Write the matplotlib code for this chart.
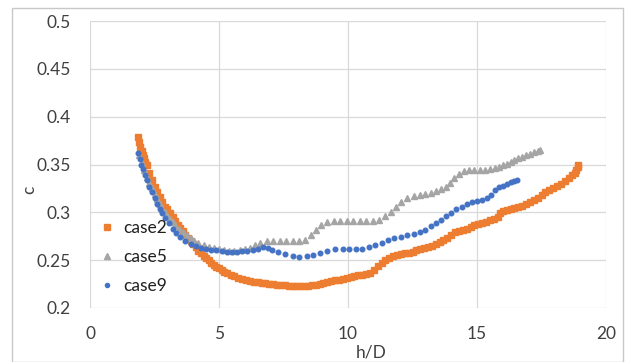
import matplotlib
matplotlib.use("Agg")
import matplotlib.pyplot as plt
from matplotlib.patches import Rectangle
from matplotlib.ticker import FuncFormatter

plt.rcParams['font.family'] = ['Lato', 'DejaVu Sans']

# ---- data ----
case2_x = [1.85, 1.9, 1.95, 2.0, 2.05, 2.1, 2.15, 2.2, 2.3, 2.4, 2.5, 2.6, 2.7, 2.8, 2.9,
           3.0, 3.1, 3.2, 3.3, 3.4, 3.5, 3.6, 3.7, 3.8, 3.9, 4.0, 4.1, 4.2, 4.3, 4.4, 4.5,
           4.6, 4.7, 4.8, 4.9, 5.0, 5.1, 5.2, 5.3, 5.45, 5.6, 5.75, 5.9, 6.05, 6.2, 6.35,
           6.5, 6.65, 6.8, 6.95, 7.1, 7.25, 7.4, 7.55, 7.7, 7.85, 8.0, 8.15, 8.3, 8.45,
           8.6, 8.75, 8.9, 9.05, 9.2, 9.35, 9.5, 9.65, 9.8, 9.95, 10.1, 10.25, 10.4, 10.55,
           10.7, 10.85, 11.0, 11.15, 11.3, 11.45, 11.6, 11.75, 11.9, 12.05, 12.2, 12.35,
           12.5, 12.65, 12.8, 12.95, 13.1, 13.25, 13.4, 13.55, 13.7, 13.85, 14.0, 14.15,
           14.3, 14.45, 14.6, 14.75, 14.9, 15.05, 15.2, 15.35, 15.5, 15.65, 15.8, 15.9,
           16.0, 16.15, 16.3, 16.45, 16.6, 16.75, 16.9, 17.05, 17.2, 17.35, 17.5, 17.65,
           17.8, 17.95, 18.1, 18.25, 18.4, 18.55, 18.7, 18.8, 18.85, 18.9, 18.92]
case2_y = [0.379, 0.373, 0.368, 0.364, 0.360, 0.357, 0.353, 0.349, 0.341, 0.334, 0.327,
           0.321, 0.316, 0.311, 0.306, 0.303, 0.299, 0.295, 0.291, 0.287, 0.284, 0.280,
           0.276, 0.273, 0.270, 0.267, 0.264, 0.260, 0.257, 0.254, 0.252, 0.250, 0.247,
           0.245, 0.243, 0.242, 0.240, 0.238, 0.237, 0.235, 0.233, 0.231, 0.230, 0.229,
           0.228, 0.227, 0.227, 0.226, 0.226, 0.225, 0.225, 0.224, 0.224, 0.224, 0.223,
           0.223, 0.223, 0.223, 0.223, 0.223, 0.224, 0.224, 0.225, 0.226, 0.227, 0.228,
           0.229, 0.229, 0.230, 0.231, 0.232, 0.233, 0.234, 0.235, 0.236, 0.237, 0.240,
           0.244, 0.247, 0.250, 0.252, 0.254, 0.255, 0.256, 0.257, 0.258, 0.259, 0.261,
           0.262, 0.263, 0.264, 0.265, 0.267, 0.269, 0.271, 0.273, 0.276, 0.279, 0.281,
           0.282, 0.283, 0.285, 0.287, 0.288, 0.289, 0.290, 0.292, 0.293, 0.295, 0.299,
           0.301, 0.302, 0.304, 0.305, 0.306, 0.307, 0.309, 0.311, 0.313, 0.315, 0.318,
           0.321, 0.323, 0.325, 0.328, 0.330, 0.333, 0.336, 0.339, 0.341, 0.344, 0.347,
           0.350]

case5_x = [1.9, 2.0, 2.1, 2.2, 2.3, 2.4, 2.5, 2.6, 2.7, 2.8, 2.9, 3.0, 3.1, 3.2, 3.3,
           3.45, 3.6, 3.75, 3.9, 4.05, 4.2, 4.4, 4.6, 4.8, 5.0, 5.2, 5.4, 5.6, 5.8, 6.0,
           6.2, 6.4, 6.6, 6.85, 7.1, 7.35, 7.6, 7.85, 8.1, 8.35, 8.55, 8.75, 8.95, 9.2,
           9.45, 9.7, 9.95, 10.2, 10.45, 10.7, 10.95, 11.2, 11.45, 11.65, 11.85, 12.05,
           12.3, 12.55, 12.8, 13.0, 13.2, 13.4, 13.6, 13.8, 13.95, 14.1, 14.3, 14.5, 14.7,
           14.9, 15.1, 15.3, 15.5, 15.7, 15.85, 16.0, 16.15, 16.3, 16.45, 16.6, 16.75,
           16.9, 17.05, 17.2, 17.35, 17.45]
case5_y = [0.360, 0.352, 0.344, 0.337, 0.331, 0.325, 0.319, 0.314, 0.309, 0.304, 0.300,
           0.296, 0.293, 0.290, 0.287, 0.283, 0.279, 0.276, 0.273, 0.270, 0.268, 0.266,
           0.264, 0.263, 0.262, 0.261, 0.260, 0.260, 0.261, 0.262, 0.263, 0.266, 0.268,
           0.270, 0.270, 0.270, 0.270, 0.270, 0.270, 0.271, 0.276, 0.282, 0.287, 0.290,
           0.291, 0.291, 0.291, 0.291, 0.291, 0.291, 0.291, 0.292, 0.296, 0.300, 0.306,
           0.311, 0.315, 0.317, 0.318, 0.319, 0.320, 0.322, 0.324, 0.327, 0.331, 0.336,
           0.340, 0.343, 0.344, 0.344, 0.344, 0.344, 0.345, 0.346, 0.347, 0.349, 0.351,
           0.353, 0.355, 0.357, 0.358, 0.360, 0.361, 0.363, 0.364, 0.365]

case9_x = [1.86, 1.92, 1.98, 2.05, 2.13, 2.2, 2.3, 2.4, 2.5, 2.6, 2.7, 2.8, 2.92, 3.05,
           3.2, 3.35, 3.5, 3.7, 3.9, 4.1, 4.3, 4.5, 4.7, 4.9, 5.1, 5.3, 5.5, 5.7, 5.9,
           6.1, 6.3, 6.5, 6.7, 6.9, 7.05, 7.3, 7.55, 7.85, 8.1, 8.4, 8.65, 8.9, 9.2, 9.5,
           9.8, 10.05, 10.3, 10.55, 10.8, 11.05, 11.3, 11.55, 11.8, 12.05, 12.3, 12.55,
           12.8, 13.0, 13.2, 13.4, 13.6, 13.8, 14.0, 14.2, 14.4, 14.6, 14.8, 15.0, 15.2,
           15.4, 15.55, 15.7, 15.85, 16.0, 16.15, 16.3, 16.45, 16.55]
case9_y = [0.362, 0.356, 0.350, 0.345, 0.339, 0.334, 0.327, 0.321, 0.315, 0.309, 0.304,
           0.299, 0.294, 0.289, 0.283, 0.278, 0.274, 0.270, 0.267, 0.265, 0.263, 0.262,
           0.261, 0.261, 0.260, 0.259, 0.2585, 0.259, 0.2595, 0.260, 0.261, 0.262, 0.264,
           0.263, 0.2606, 0.2585, 0.2565, 0.254, 0.2535, 0.2543, 0.2554, 0.2575, 0.2596,
           0.2615, 0.262, 0.262, 0.262, 0.262, 0.2635, 0.266, 0.268, 0.271, 0.273, 0.2745,
           0.276, 0.277, 0.279, 0.282, 0.286, 0.289, 0.292, 0.296, 0.299, 0.303, 0.306,
           0.309, 0.311, 0.312, 0.313, 0.315, 0.318, 0.323, 0.326, 0.328, 0.330, 0.332,
           0.333, 0.334]

series_labels = ["case2", "case5", "case9"]
x_ticks = [0, 5, 10, 15, 20]
y_ticks = [0.2, 0.25, 0.3, 0.35, 0.4, 0.45, 0.5]
x_label = "h/D"
y_label = "c"

# ---- figure ----
W, H = 632, 362
fig = plt.figure(figsize=(W / 100, H / 100), dpi=100)
fig.patch.set_facecolor("white")
fig.add_artist(Rectangle((11.5 / W, 0), (622.5 - 11.5) / W, 1 - 7.5 / H,
                         transform=fig.transFigure, fill=False,
                         edgecolor="#c8c8c8", linewidth=1.0))

ax = fig.add_axes([90 / W, 1 - 308 / H, (606 - 90) / W, (308 - 21) / H])
ax.set_xlim(0, 20)
ax.set_ylim(0.2, 0.5)
ax.set_xticks(x_ticks)
ax.set_yticks(y_ticks)
ax.yaxis.set_major_formatter(FuncFormatter(lambda v, p: f"{v:g}"))
ax.grid(True, color="#d9d9d9", linewidth=0.9)
ax.set_axisbelow(True)
for s in ax.spines.values():
    s.set_visible(False)
ax.tick_params(length=0, labelsize=12.5, colors="#404040")
ax.tick_params(axis="y", pad=14)
ax.tick_params(axis="x", pad=13)

ax.plot(case2_x, case2_y, linestyle="none", marker="s", markersize=4.8,
        color="#ED7D31", label=series_labels[0], clip_on=False)
ax.plot(case5_x, case5_y, linestyle="none", marker="^", markersize=4.2,
        color="#A5A5A5", label=series_labels[1], clip_on=False)
ax.plot(case9_x, case9_y, linestyle="none", marker="o", markersize=3.3,
        color="#4472C4", label=series_labels[2], clip_on=False)

leg = ax.legend(loc="upper left", bbox_to_anchor=(0.0, 0.35), frameon=False,
                fontsize=12.5, handlelength=0.6, handletextpad=0.6,
                labelspacing=0.75, markerscale=0.9, borderaxespad=0.3)
for t in leg.get_texts():
    t.set_color("#202020")

fig.text(371 / W, 1 - 353 / H, x_label, ha="center", va="center",
         fontsize=12.5, color="#404040")
fig.text(29 / W, 1 - 190 / H, y_label, ha="center", va="center",
         fontsize=12.5, color="#404040", rotation=90)

fig.savefig("out.png", dpi=100)
